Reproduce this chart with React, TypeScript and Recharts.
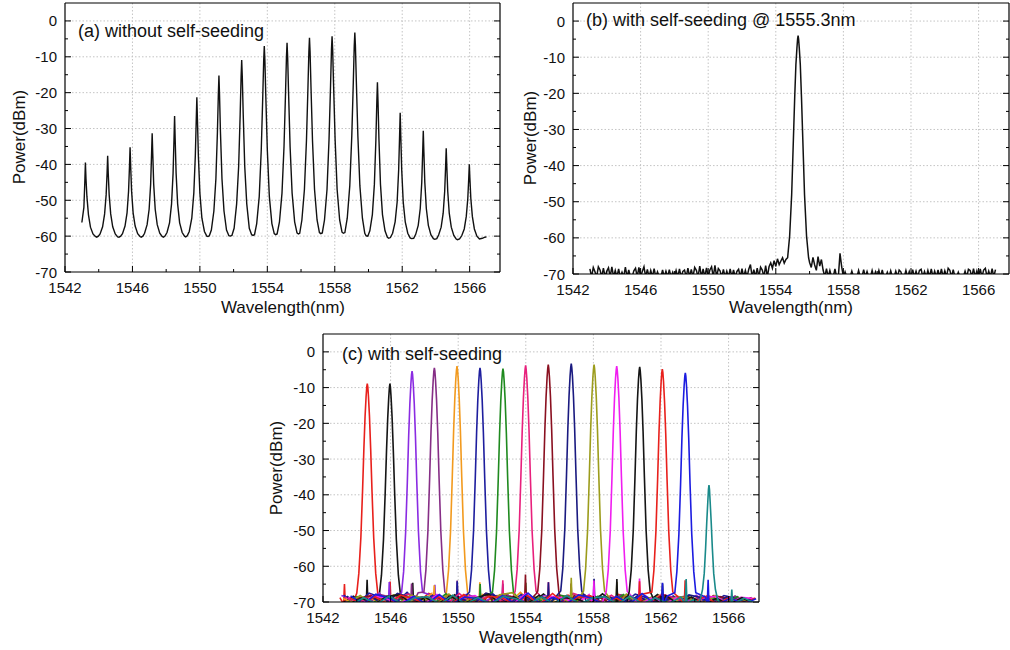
import React from 'react';
import { LineChart, Line, XAxis, YAxis, CartesianGrid } from 'recharts';

// axes
const X_DOMAIN = [1542, 1567.8];
const X_TICKS = [1542, 1544, 1546, 1548, 1550, 1552, 1554, 1556, 1558, 1560, 1562, 1564, 1566];
const X_LABELS = [1542, 1546, 1550, 1554, 1558, 1562, 1566];
const Y_DOMAIN = [-70, 5];
const Y_TICKS = [-70, -65, -60, -55, -50, -45, -40, -35, -30, -25, -20, -15, -10, -5, 0];
const Y_LABELS = [-70, -60, -50, -40, -30, -20, -10, 0];
const GRID_X = [1546, 1550, 1554, 1558, 1562, 1566];
const GRID_Y = [-60, -50, -40, -30, -20, -10, 0];

// (a) without self-seeding: [wavelength nm, power dBm]
const TRACE_A = [
  [1543.0, -56.2], [1543.12, -52], [1543.175, -45], [1543.21, -39.5], [1543.245, -44], [1543.3, -49], [1543.39, -54], [1543.51, -57.5], [1543.66, -59.4], [1543.8, -60.1], [1543.88, -60.3],
  [1543.98, -60.0], [1544.08, -59.4], [1544.23, -57.4], [1544.35, -53.8], [1544.44, -48.5], [1544.495, -42.5], [1544.53, -37.6], [1544.565, -42.5], [1544.62, -48.5], [1544.71, -53.8], [1544.83, -57.4], [1544.98, -59.4], [1545.12, -60.2], [1545.2, -60.3],
  [1545.3, -60.0], [1545.41, -59.3], [1545.56, -57.2], [1545.68, -53.5], [1545.77, -47.5], [1545.825, -40.5], [1545.86, -35.2], [1545.895, -40.5], [1545.95, -47.5], [1546.04, -53.5], [1546.16, -57.2], [1546.31, -59.3], [1546.45, -60.1], [1546.52, -60.3],
  [1546.62, -60.0], [1546.72, -59.2], [1546.87, -56.8], [1546.99, -52.5], [1547.08, -45.5], [1547.135, -37], [1547.17, -31.3], [1547.205, -37], [1547.26, -45.5], [1547.35, -52.5], [1547.47, -56.8], [1547.62, -59.2], [1547.76, -60.1], [1547.84, -60.3],
  [1547.93, -60.0], [1548.05, -59.0], [1548.2, -56.3], [1548.32, -51], [1548.41, -42.5], [1548.465, -33], [1548.5, -26.5], [1548.535, -33], [1548.59, -42.5], [1548.68, -51], [1548.8, -56.3], [1548.95, -59.0], [1549.09, -60.0], [1549.16, -60.2],
  [1549.25, -59.9], [1549.37, -58.7], [1549.52, -55], [1549.64, -48], [1549.73, -37.5], [1549.785, -27.5], [1549.82, -21.3], [1549.855, -27.5], [1549.91, -37.5], [1550.0, -48], [1550.12, -55], [1550.27, -58.7], [1550.41, -60.0], [1550.48, -60.1],
  [1550.56, -59.9], [1550.68, -58.3], [1550.83, -53], [1550.95, -44], [1551.04, -31], [1551.095, -20.5], [1551.13, -15.2], [1551.165, -20.5], [1551.22, -31], [1551.31, -44], [1551.43, -53], [1551.58, -58.3], [1551.72, -59.9], [1551.8, -60.0],
  [1551.9, -59.8], [1552.03, -57.8], [1552.18, -51], [1552.3, -40.5], [1552.39, -26], [1552.445, -15.5], [1552.48, -10.9], [1552.515, -15.5], [1552.57, -26], [1552.66, -40.5], [1552.78, -51], [1552.93, -57.8], [1553.07, -59.6], [1553.15, -59.8],
  [1553.24, -59.6], [1553.37, -56.5], [1553.52, -49], [1553.64, -36], [1553.73, -21], [1553.785, -11], [1553.82, -7.0], [1553.855, -11], [1553.91, -21], [1554.0, -36], [1554.12, -49], [1554.27, -56.5], [1554.41, -59.3], [1554.49, -59.6],
  [1554.58, -59.4], [1554.72, -56], [1554.87, -48], [1554.99, -35], [1555.08, -20], [1555.135, -10], [1555.17, -6.1], [1555.205, -10], [1555.26, -20], [1555.35, -35], [1555.47, -48], [1555.62, -56], [1555.76, -59.1], [1555.84, -59.4],
  [1555.92, -59.2], [1556.05, -55.5], [1556.2, -47], [1556.32, -33.5], [1556.41, -18.5], [1556.465, -8.5], [1556.5, -4.7], [1556.535, -8.5], [1556.59, -18.5], [1556.68, -33.5], [1556.8, -47], [1556.95, -55.5], [1557.09, -59.0], [1557.17, -59.3],
  [1557.26, -59.1], [1557.39, -55.5], [1557.54, -47], [1557.66, -33], [1557.75, -18], [1557.805, -8], [1557.84, -4.3], [1557.875, -8], [1557.93, -18], [1558.02, -33], [1558.14, -47], [1558.29, -55.5], [1558.43, -58.9], [1558.51, -59.2],
  [1558.6, -59.0], [1558.74, -55], [1558.89, -46], [1559.01, -32], [1559.1, -17], [1559.155, -7], [1559.19, -3.2], [1559.225, -7], [1559.28, -17], [1559.37, -32], [1559.49, -46], [1559.64, -55], [1559.78, -59.2], [1559.86, -59.9],
  [1559.96, -60.0], [1560.08, -58.5], [1560.23, -54], [1560.35, -45.5], [1560.44, -33], [1560.495, -22.5], [1560.53, -17.1], [1560.565, -22.5], [1560.62, -33], [1560.71, -45.5], [1560.83, -54], [1560.98, -58.5], [1561.12, -60.3], [1561.2, -60.6],
  [1561.3, -60.4], [1561.43, -59.2], [1561.58, -56], [1561.7, -50.5], [1561.79, -41.5], [1561.845, -32], [1561.88, -25.6], [1561.915, -32], [1561.97, -41.5], [1562.06, -50.5], [1562.18, -56], [1562.33, -59.2], [1562.47, -60.5], [1562.55, -60.7],
  [1562.68, -60.6], [1562.8, -59.5], [1562.95, -57], [1563.07, -52.3], [1563.16, -45], [1563.215, -36.5], [1563.25, -30.6], [1563.285, -36.5], [1563.34, -45], [1563.43, -52.3], [1563.55, -57], [1563.7, -59.6], [1563.85, -60.7], [1563.93, -60.9],
  [1564.05, -60.7], [1564.16, -59.7], [1564.31, -57.5], [1564.43, -53.6], [1564.52, -47.5], [1564.575, -40.5], [1564.61, -35.5], [1564.645, -40.5], [1564.7, -47.5], [1564.79, -53.6], [1564.91, -57.5], [1565.06, -59.8], [1565.2, -60.8], [1565.28, -61.0],
  [1565.4, -60.8], [1565.53, -59.9], [1565.68, -58], [1565.8, -54.5], [1565.89, -49.5], [1565.945, -44], [1565.98, -40.0], [1566.015, -44], [1566.07, -49.5], [1566.16, -54.5], [1566.28, -58], [1566.43, -60.0], [1566.58, -60.8], [1566.75, -60.6], [1566.9, -60.3], [1567.0, -60.2],
];

// peak half-profile offsets (nm from centre)
const PROFILE_OFFSETS = [0.03, 0.07, 0.13, 0.2, 0.28, 0.38, 0.5, 0.62];

// (b) with self-seeding @ 1555.3nm, floor sampled every 0.1 nm from 1543
const FLOOR_B_START = 1543.0;
const FLOOR_B_STEP = 0.1;
const FLOOR_B = [
  -68.6, -70.8, -68.2, -69.4, -70.8, -68.0, -68.9, -70.8, -68.4, -70.8,
  -69.2, -68.3, -70.8, -68.0, -70.8, -69.0, -70.8, -68.6, -70.8, -69.5,
  -70.8, -68.1, -70.8, -68.9, -70.8, -70.8, -69.1, -68.4, -70.8, -68.2,
  -70.8, -69.3, -68.0, -70.8, -68.7, -70.8, -69.0, -70.8, -68.5, -70.8,
  -69.4, -70.8, -70.8, -68.9, -70.8, -69.2, -70.8, -68.8, -70.8, -69.5,
  -70.8, -69.0, -70.8, -68.6, -70.8, -69.3, -68.9, -70.8, -68.4, -70.8,
  -68.7, -70.8, -68.2, -69.0, -70.8, -67.8, -70.8, -68.6, -70.8, -68.3,
  -70.8, -68.9, -68.0, -70.8, -67.6, -70.8, -68.5, -69.1, -70.8, -68.7,
  -70.8, -69.2, -70.8, -68.6, -70.8, -68.9, -70.8, -69.3, -68.7, -70.8,
  -68.5, -70.8, -69.0, -70.8, -68.7, -67.4, -70.8, -68.8, -70.8, -68.4,
  -70.8, -68.1, -68.9, -70.8, -67.7, -70.8, -68.0, -66.9, -68.4, -66.3,
  -67.9, -65.8, -67.4, -66.4, -65.5, -67.0, -66.0, -70, -70, -70,
  -70, -70, -70, -70, -70, -70, -70, -70, -70, -70,
  -66.8, -68.2, -65.4, -67.5, -69.0, -65.2, -67.8, -66.0, -68.9, -70.8,
  -68.5, -70.8, -69.0, -70.8, -70.8, -68.6, -70.8, -70.8, -64.3, -68.0,
  -70.8, -69.4, -70.8, -70.8, -70.8, -69.2, -70.8, -70.8, -70.8, -69.0,
  -70.8, -70.8, -68.8, -70.8, -69.3, -70.8, -70.8, -69.0, -70.8, -69.4,
  -70.8, -69.0, -70.8, -68.9, -70.8, -70.8, -69.5, -70.8, -69.1, -70.8,
  -70.8, -69.2, -70.8, -68.9, -69.4, -70.8, -70.8, -69.0, -70.8, -69.3,
  -70.8, -68.8, -70.8, -69.2, -70.8, -69.0, -68.7, -70.8, -69.3, -70.8,
  -69.0, -70.8, -68.6, -70.8, -69.2, -70.8, -68.9, -70.8, -68.6, -70.8,
  -69.1, -70.8, -68.4, -69.0, -70.8, -68.8, -70.8, -70.8, -69.5, -70.8,
  -70.8, -70.8, -69.2, -70.8, -68.7, -69.0, -70.8, -68.5, -70.8, -69.1,
  -70.8, -68.6, -70.8, -68.9, -68.4, -70.8, -69.2, -70.8, -68.5, -70.8,
  -68.8,
];
const PEAK_B_CENTER = 1555.32;
const PEAK_B_HEIGHT = -4.0;
const PEAK_B_PROFILE = [-5, -7.5, -12, -21, -33, -48, -59.5, -65.5];

// (c) with self-seeding, one trace per seeded channel
const CH_CENTERS = [1544.62, 1545.96, 1547.27, 1548.59, 1549.93, 1551.29, 1552.65, 1553.99, 1555.33, 1556.69, 1558.04, 1559.38, 1560.74, 1562.08, 1563.44, 1564.84];
const CH_HEIGHTS = [-8.9, -8.9, -5.4, -4.5, -4.0, -4.5, -4.7, -3.8, -3.6, -3.3, -3.6, -4.0, -4.2, -4.8, -5.9, -37.3];
const CH_COLORS = ['#e8201c', '#151515', '#8a2be2', '#862e86', '#f29a1e', '#1e1e9e', '#1f8a1f', '#e8207c', '#8a1020', '#1a1a80', '#9c9c1c', '#f01ef0', '#151515', '#e8201c', '#1c1ce0', '#1a8a8a'];
const CH_PROFILES = [
  [-9.8, -12.5, -18, -27, -39, -52, -62, -67.5],
  [-9.9, -12.8, -18.5, -27.5, -39.5, -52.5, -62.5, -67.8],
  [-6.3, -9, -14.5, -23.5, -36.5, -50.5, -61.5, -67.3],
  [-5.4, -8, -13.5, -22.5, -35.5, -50, -61, -67.2],
  [-5, -7.5, -13, -22, -35, -50, -61, -67],
  [-5.4, -8, -13.5, -22.5, -35.5, -50, -61, -67.2],
  [-5.6, -8.2, -13.7, -22.7, -35.7, -50.2, -61.2, -67.2],
  [-4.8, -7.3, -12.8, -21.8, -34.8, -49.8, -60.8, -67],
  [-4.6, -7.1, -12.6, -21.6, -34.6, -49.6, -60.7, -66.9],
  [-4.3, -6.8, -12.3, -21.3, -34.3, -49.4, -60.6, -66.9],
  [-4.6, -7.1, -12.6, -21.6, -34.6, -49.6, -60.7, -66.9],
  [-5, -7.5, -13, -22, -35, -50, -61, -67],
  [-5.2, -7.7, -13.2, -22.2, -35.2, -50, -61, -67.1],
  [-5.7, -8.3, -13.8, -22.8, -35.8, -50.3, -61.2, -67.2],
  [-6.8, -9.5, -15, -24, -37, -51, -61.5, -67.4],
  [-38.5, -42, -47.5, -55, -62, -66.5, -69, -70.2],
];
// side-mode spikes one channel spacing either side [left, right]
const SIDEMODE_SPACING = 1.35;
const CH_SIDEMODES = [
  [-65.0, -64.3], [-63.8, -64.6], [-64.4, -65.2], [-64.8, -64.0], [-65.3, -64.5], [-64.2, -64.9], [-65.0, -64.6], [-63.9, -64.4],
  [-62.3, -64.8], [-64.5, -63.5], [-63.2, -64.4], [-64.0, -63.4], [-63.6, -64.8], [-64.2, -63.9], [-64.6, -63.8], [-63.6, -66.5],
];
// noise floor samples, 0.75 nm apart, each channel's sweep slightly offset
const FLOOR_C_START = 1543.0;
const FLOOR_C_STEP = 0.75;
const FLOOR_C_SHIFT = 0.045;
const CH_FLOORS = [
  [-68.8, -70.6, -67.9, -69.5, -70.6, -68.3, -70.6, -67.6, -68.9, -70.6, -68.2, -70.6, -69.0, -67.8, -70.6, -68.5, -70.6, -69.2, -68.1, -70.6, -68.7, -70.6, -67.9, -69.3, -70.6, -68.4, -70.6, -68.9, -70.6, -68.2, -69.4, -70.6, -68.8],
  [-70.6, -68.4, -69.2, -70.6, -67.7, -70.6, -68.8, -69.6, -70.6, -68.0, -70.6, -68.6, -70.6, -68.3, -69.0, -70.6, -67.8, -70.6, -68.9, -70.6, -68.4, -69.1, -70.6, -68.6, -70.6, -67.9, -70.6, -68.7, -69.3, -70.6, -68.5, -70.6, -69.0],
  [-68.2, -69.4, -70.6, -67.5, -70.6, -68.6, -70.6, -68.0, -70.6, -68.9, -67.7, -70.6, -68.4, -70.6, -69.1, -70.6, -68.2, -68.8, -70.6, -67.8, -70.6, -68.6, -70.6, -69.0, -68.3, -70.6, -68.7, -70.6, -68.1, -70.6, -69.2, -68.6, -70.6],
  [-70.6, -68.7, -70.6, -67.9, -68.8, -70.6, -67.4, -70.6, -68.5, -70.6, -68.1, -69.3, -70.6, -67.8, -70.6, -68.9, -70.6, -68.3, -70.6, -68.7, -69.2, -70.6, -68.0, -70.6, -68.6, -70.6, -69.1, -68.4, -70.6, -68.8, -70.6, -68.3, -70.6],
  [-69.0, -70.6, -68.4, -70.6, -68.0, -69.1, -70.6, -67.6, -70.6, -68.6, -70.6, -67.9, -68.7, -70.6, -67.3, -70.6, -68.5, -70.6, -68.9, -67.8, -70.6, -68.4, -70.6, -68.9, -70.6, -68.1, -69.0, -70.6, -68.6, -70.6, -68.9, -70.6, -69.2],
  [-68.1, -70.6, -67.5, -68.8, -70.6, -67.3, -70.6, -68.2, -70.6, -68.7, -67.6, -70.6, -68.4, -70.6, -67.9, -70.6, -68.6, -69.2, -70.6, -68.0, -70.6, -68.5, -70.6, -67.8, -68.9, -70.6, -68.3, -70.6, -68.8, -70.6, -68.2, -69.0, -70.6],
  [-70.6, -68.5, -70.6, -68.9, -68.1, -70.6, -68.7, -70.6, -67.7, -70.6, -68.4, -69.0, -70.6, -67.5, -70.6, -68.6, -70.6, -68.1, -68.9, -70.6, -68.4, -70.6, -67.9, -70.6, -68.8, -69.3, -70.6, -68.2, -70.6, -68.7, -70.6, -68.5, -70.6],
  [-68.6, -70.6, -68.0, -70.6, -68.9, -67.8, -70.6, -68.4, -70.6, -67.6, -70.6, -68.7, -68.2, -70.6, -67.9, -70.6, -68.5, -70.6, -67.6, -68.8, -70.6, -68.1, -70.6, -68.6, -70.6, -67.8, -68.9, -70.6, -68.3, -70.6, -68.7, -70.6, -68.9],
  [-70.6, -68.9, -68.3, -70.6, -67.9, -70.6, -68.6, -70.6, -68.2, -69.0, -70.6, -67.6, -70.6, -68.4, -70.6, -67.7, -68.8, -70.6, -68.1, -70.6, -68.6, -70.6, -68.3, -69.1, -70.6, -67.9, -70.6, -68.5, -70.6, -68.2, -68.9, -70.6, -68.7],
  [-68.4, -70.6, -68.8, -70.6, -67.6, -68.7, -70.6, -68.2, -70.6, -68.9, -70.6, -67.5, -68.6, -70.6, -68.0, -70.6, -68.8, -70.6, -67.8, -70.6, -68.4, -69.0, -70.6, -68.2, -70.6, -68.7, -70.6, -68.0, -68.8, -70.6, -68.5, -70.6, -69.1],
  [-70.6, -68.2, -70.6, -68.7, -70.6, -68.1, -68.9, -70.6, -67.8, -70.6, -68.5, -70.6, -68.0, -67.4, -70.6, -68.6, -70.6, -68.9, -70.6, -68.3, -68.8, -70.6, -67.8, -70.6, -68.6, -70.6, -68.4, -69.0, -70.6, -68.2, -70.6, -68.8, -70.6],
  [-68.7, -70.6, -68.3, -69.0, -70.6, -68.5, -70.6, -67.9, -70.6, -68.8, -68.2, -70.6, -68.6, -70.6, -67.6, -70.6, -68.4, -68.9, -70.6, -67.9, -70.6, -68.5, -70.6, -68.2, -68.8, -70.6, -68.6, -70.6, -68.9, -68.4, -70.6, -68.7, -69.0],
  [-70.6, -68.9, -70.6, -68.4, -68.0, -70.6, -68.7, -70.6, -68.3, -70.6, -68.9, -67.8, -70.6, -68.5, -70.6, -68.1, -70.6, -68.8, -69.2, -70.6, -67.7, -70.6, -68.4, -70.6, -68.9, -68.2, -70.6, -68.6, -70.6, -69.0, -70.6, -68.8, -70.6],
  [-68.9, -70.6, -68.5, -70.6, -68.1, -69.0, -70.6, -68.6, -70.6, -67.9, -70.6, -68.4, -68.8, -70.6, -68.2, -70.6, -67.6, -70.6, -68.7, -68.3, -70.6, -68.9, -70.6, -67.9, -70.6, -68.5, -68.9, -70.6, -68.4, -70.6, -68.7, -70.6, -68.9],
  [-68.3, -70.6, -67.8, -68.9, -70.6, -68.4, -70.6, -67.9, -70.6, -68.6, -69.0, -70.6, -68.2, -70.6, -67.5, -70.6, -68.7, -70.6, -68.0, -68.9, -70.6, -68.4, -70.6, -67.6, -70.6, -68.3, -69.0, -70.6, -68.6, -70.6, -68.9, -70.6, -69.1],
  [-70.6, -68.8, -70.6, -68.3, -70.6, -68.9, -68.5, -70.6, -68.1, -70.6, -68.7, -70.6, -68.4, -69.1, -70.6, -68.6, -70.6, -68.2, -70.6, -68.9, -68.5, -70.6, -68.3, -70.6, -68.8, -70.6, -68.6, -69.2, -70.6, -68.4, -70.6, -68.9, -70.6],
];

type Pt = { x: number; y: number };

const peakPoints = (center: number, height: number, profile: number[]): Pt[] => {
  const left = PROFILE_OFFSETS.map((o, i) => ({ x: center - o, y: profile[i] })).reverse();
  const right = PROFILE_OFFSETS.map((o, i) => ({ x: center + o, y: profile[i] }));
  return [...left, { x: center, y: height }, ...right];
};

const floorPoints = (values: number[], start: number, step: number): Pt[] =>
  values.map((y, i) => ({ x: start + i * step, y }));

const byX = (a: Pt, b: Pt) => a.x - b.x;

const dataA: Pt[] = TRACE_A.map(([x, y]) => ({ x, y }));

const dataB: Pt[] = [
  ...floorPoints(FLOOR_B, FLOOR_B_START, FLOOR_B_STEP).filter((p) => Math.abs(p.x - PEAK_B_CENTER) > 0.64),
  ...peakPoints(PEAK_B_CENTER, PEAK_B_HEIGHT, PEAK_B_PROFILE),
].sort(byX);

const dataC: Pt[][] = CH_CENTERS.map((c, k) => {
  const sides = [c - SIDEMODE_SPACING, c + SIDEMODE_SPACING];
  const floor = floorPoints(CH_FLOORS[k], FLOOR_C_START + k * FLOOR_C_SHIFT, FLOOR_C_STEP).filter(
    (p) => Math.abs(p.x - c) > 0.64 && sides.every((s) => Math.abs(p.x - s) > 0.1)
  );
  const spikes = sides.flatMap((s, j) => [
    { x: s - 0.05, y: -70.6 },
    { x: s, y: CH_SIDEMODES[k][j] },
    { x: s + 0.05, y: -70.6 },
  ]);
  return [...floor, ...spikes, ...peakPoints(c, CH_HEIGHTS[k], CH_PROFILES[k])].sort(byX);
});

const FONT = 'Arial, "Liberation Sans", sans-serif';
const AXIS_LINE = { stroke: '#000', strokeWidth: 1.2 };

const BottomTick = (props: any) => {
  const { x, y, payload } = props;
  const major = X_LABELS.includes(payload.value);
  return (
    <g>
      <line x1={x} x2={x} y1={y} y2={y - (major ? 6 : 3)} stroke="#000" strokeWidth={1} />
      {major && (
        <text x={x} y={y + 15} textAnchor="middle" dominantBaseline="central" fontSize={15} fontFamily={FONT} fill="#111">
          {payload.value}
        </text>
      )}
    </g>
  );
};

const TopTick = (props: any) => {
  const { x, y, payload } = props;
  const major = X_LABELS.includes(payload.value);
  return <line x1={x} x2={x} y1={y} y2={y + (major ? 6 : 3)} stroke="#000" strokeWidth={1} />;
};

const LeftTick = (props: any) => {
  const { x, y, payload } = props;
  const major = Y_LABELS.includes(payload.value);
  return (
    <g>
      <line x1={x} x2={x + (major ? 6 : 3)} y1={y} y2={y} stroke="#000" strokeWidth={1} />
      {major && (
        <text x={x - 8} y={y} textAnchor="end" dominantBaseline="central" fontSize={15} fontFamily={FONT} fill="#111">
          {payload.value}
        </text>
      )}
    </g>
  );
};

const RightTick = (props: any) => {
  const { x, y, payload } = props;
  const major = Y_LABELS.includes(payload.value);
  return <line x1={x} x2={x - (major ? 6 : 3)} y1={y} y2={y} stroke="#000" strokeWidth={1} />;
};

type PanelProps = {
  left: number;
  top: number;
  width: number;
  height: number;
  marginTop: number;
  marginRight: number;
  xAxisHeight: number;
  children: React.ReactNode;
};

// top / right axes get 1px so that Recharts still draws them (frame + inward ticks)
const Panel = ({ left, top, width, height, marginTop, marginRight, xAxisHeight, children }: PanelProps) => (
  <div style={{ position: 'absolute', left, top }}>
    <LineChart width={width} height={height} margin={{ top: marginTop, right: marginRight, bottom: 0, left: 0 }}>
      <CartesianGrid stroke="#c4c4c4" strokeDasharray="1.5 2" horizontalValues={GRID_Y} verticalValues={GRID_X} />
      <XAxis
        dataKey="x"
        type="number"
        domain={X_DOMAIN}
        allowDataOverflow
        ticks={X_TICKS}
        interval={0}
        height={xAxisHeight}
        tickSize={0}
        tickMargin={0}
        tickLine={false}
        axisLine={AXIS_LINE}
        tick={BottomTick}
      />
      <XAxis
        xAxisId="top"
        orientation="top"
        type="number"
        domain={X_DOMAIN}
        allowDataOverflow
        ticks={X_TICKS}
        interval={0}
        height={1}
        tickSize={0}
        tickMargin={0}
        tickLine={false}
        axisLine={AXIS_LINE}
        tick={TopTick}
      />
      <YAxis
        type="number"
        domain={Y_DOMAIN}
        allowDataOverflow
        ticks={Y_TICKS}
        interval={0}
        width={65}
        tickSize={0}
        tickMargin={0}
        tickLine={false}
        axisLine={AXIS_LINE}
        tick={LeftTick}
      />
      <YAxis
        yAxisId="right"
        orientation="right"
        type="number"
        domain={Y_DOMAIN}
        allowDataOverflow
        ticks={Y_TICKS}
        interval={0}
        width={1}
        tickSize={0}
        tickMargin={0}
        tickLine={false}
        axisLine={AXIS_LINE}
        tick={RightTick}
      />
      {children}
    </LineChart>
  </div>
);

const textStyle: React.CSSProperties = {
  position: 'absolute',
  fontFamily: FONT,
  color: '#111',
  whiteSpace: 'nowrap',
  lineHeight: 1,
};

const Note = ({ left, cy, children }: { left: number; cy: number; children: React.ReactNode }) => (
  <div style={{ ...textStyle, left, top: cy, fontSize: 18, transform: 'translateY(-50%)' }}>{children}</div>
);

const XTitle = ({ cx, cy }: { cx: number; cy: number }) => (
  <div style={{ ...textStyle, left: cx, top: cy, fontSize: 17, transform: 'translate(-50%, -50%)' }}>Wavelength(nm)</div>
);

const YTitle = ({ cx, cy }: { cx: number; cy: number }) => (
  <div style={{ ...textStyle, left: cx, top: cy, fontSize: 17, transform: 'translate(-50%, -50%) rotate(-90deg)' }}>
    Power(dBm)
  </div>
);

export default function App() {
  return (
    <div style={{ position: 'absolute', left: 0, top: 0, width: 1010, height: 650, background: '#fff', overflow: 'hidden' }}>
      {/* (a) */}
      <Panel left={0} top={0} width={510} height={320} marginTop={2} marginRight={9} xAxisHeight={48}>
        <Line data={dataA} dataKey="y" type="linear" stroke="#111" strokeWidth={1.4} dot={false} isAnimationActive={false} />
      </Panel>
      <Note left={78} cy={31}>(a) without self-seeding</Note>
      <XTitle cx={283} cy={307} />
      <YTitle cx={19} cy={137} />

      {/* (b) */}
      <Panel left={508} top={0} width={502} height={320} marginTop={2} marginRight={0} xAxisHeight={46}>
        <Line data={dataB} dataKey="y" type="linear" stroke="#111" strokeWidth={1.5} dot={false} isAnimationActive={false} />
      </Panel>
      <Note left={586} cy={20}>(b) with self-seeding @ 1555.3nm</Note>
      <XTitle cx={791} cy={307} />
      <YTitle cx={530} cy={138} />

      {/* (c) */}
      <Panel left={258} top={330} width={510} height={320} marginTop={3} marginRight={8} xAxisHeight={48}>
        {dataC.map((d, k) => (
          <Line
            key={k}
            data={d}
            dataKey="y"
            type="linear"
            stroke={CH_COLORS[k]}
            strokeWidth={1.6}
            dot={false}
            isAnimationActive={false}
          />
        ))}
      </Panel>
      <Note left={342} cy={354}>(c) with self-seeding</Note>
      <XTitle cx={541} cy={637} />
      <YTitle cx={276} cy={468} />
    </div>
  );
}
